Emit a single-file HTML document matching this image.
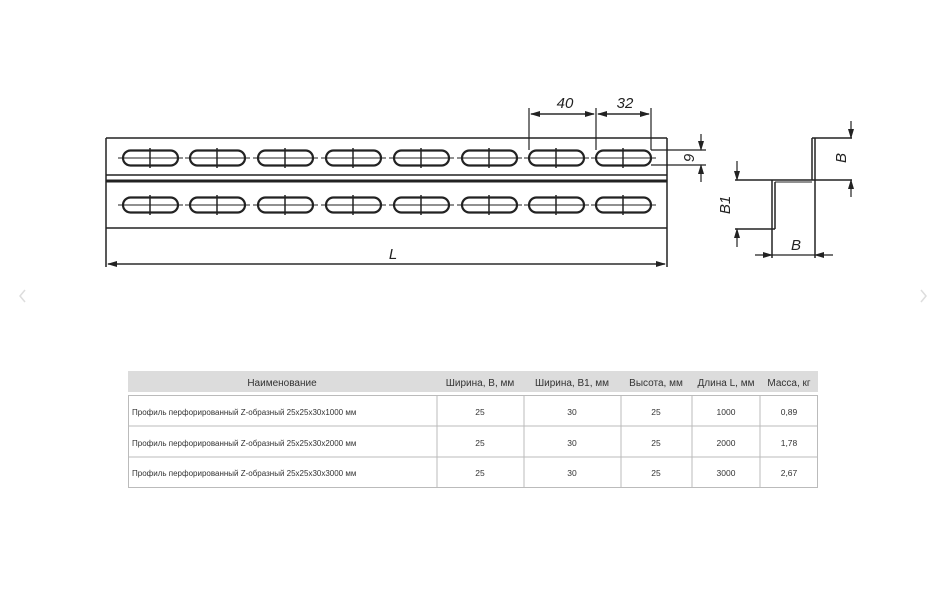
<!DOCTYPE html>
<html><head><meta charset="utf-8"><style>
html,body{margin:0;padding:0;background:#fff;}
body{width:948px;height:590px;position:relative;overflow:hidden;font-family:"Liberation Sans","DejaVu Sans",sans-serif;}
svg{position:absolute;left:0;top:0;}
</style></head><body>
<svg width="948" height="590" viewBox="0 0 948 590" xmlns="http://www.w3.org/2000/svg">
<defs>
<marker id="a" markerWidth="10" markerHeight="6" refX="9" refY="3" orient="auto" markerUnits="userSpaceOnUse"><path d="M0,0 L10,3 L0,6 z" fill="#222"/></marker>
<g id="slot">
<rect x="0" y="-7.5" width="55" height="15" rx="7.5" fill="none" stroke="#222" stroke-width="2.2"/>
<line x1="-5" y1="0" x2="60" y2="0" stroke="#222" stroke-width="1"/>
<line x1="27" y1="-10" x2="27" y2="10" stroke="#222" stroke-width="1.5"/>
</g>
</defs>
<g stroke="#222" fill="none" stroke-width="1.5">
<line x1="106" y1="138" x2="667" y2="138"/>
<line x1="106" y1="138" x2="106" y2="267"/>
<line x1="667" y1="138" x2="667" y2="267"/>
<line x1="106" y1="175" x2="667" y2="175"/>
<line x1="106" y1="181" x2="667" y2="181" stroke-width="3"/>
<line x1="106" y1="228" x2="667" y2="228"/>
<line x1="108" y1="264" x2="665" y2="264" stroke-width="1.2" marker-end="url(#a)"/>
<line x1="665" y1="264" x2="108" y2="264" stroke-width="1.2" marker-end="url(#a)"/>
<line x1="529" y1="108" x2="529" y2="150" stroke-width="1.2"/>
<line x1="596" y1="108" x2="596" y2="150" stroke-width="1.2"/>
<line x1="651" y1="108" x2="651" y2="150" stroke-width="1.2"/>
<line x1="531" y1="114" x2="594" y2="114" stroke-width="1.2" marker-end="url(#a)"/>
<line x1="594" y1="114" x2="531" y2="114" stroke-width="1.2" marker-end="url(#a)"/>
<line x1="598" y1="114" x2="649" y2="114" stroke-width="1.2" marker-end="url(#a)"/>
<line x1="649" y1="114" x2="598" y2="114" stroke-width="1.2" marker-end="url(#a)"/>
<line x1="651" y1="150" x2="706" y2="150" stroke-width="1.2"/>
<line x1="651" y1="165" x2="706" y2="165" stroke-width="1.2"/>
<line x1="701" y1="134" x2="701" y2="150" stroke-width="1.2" marker-end="url(#a)"/>
<line x1="701" y1="182" x2="701" y2="165" stroke-width="1.2" marker-end="url(#a)"/>
<line x1="812" y1="138" x2="812" y2="180"/>
<line x1="815" y1="138" x2="815" y2="258"/>
<line x1="812" y1="138" x2="852" y2="138"/>
<line x1="735" y1="180" x2="852" y2="180"/>
<line x1="775" y1="182" x2="812" y2="182" stroke-width="1"/>
<line x1="772" y1="180" x2="772" y2="258"/>
<line x1="775" y1="182" x2="775" y2="229"/>
<line x1="735" y1="229" x2="775" y2="229"/>
<line x1="851" y1="121" x2="851" y2="138" stroke-width="1.2" marker-end="url(#a)"/>
<line x1="851" y1="197" x2="851" y2="180" stroke-width="1.2" marker-end="url(#a)"/>
<line x1="737" y1="161" x2="737" y2="180" stroke-width="1.2" marker-end="url(#a)"/>
<line x1="737" y1="247" x2="737" y2="229" stroke-width="1.2" marker-end="url(#a)"/>
<line x1="755" y1="255" x2="772" y2="255" stroke-width="1.2" marker-end="url(#a)"/>
<line x1="833" y1="255" x2="815" y2="255" stroke-width="1.2" marker-end="url(#a)"/>
<line x1="772" y1="255" x2="815" y2="255" stroke-width="1.2"/>
</g>
<g>
<use href="#slot" x="123" y="158"/><use href="#slot" x="190" y="158"/><use href="#slot" x="258" y="158"/><use href="#slot" x="326" y="158"/>
<use href="#slot" x="394" y="158"/><use href="#slot" x="462" y="158"/><use href="#slot" x="529" y="158"/><use href="#slot" x="596" y="158"/>
<use href="#slot" x="123" y="205"/><use href="#slot" x="190" y="205"/><use href="#slot" x="258" y="205"/><use href="#slot" x="326" y="205"/>
<use href="#slot" x="394" y="205"/><use href="#slot" x="462" y="205"/><use href="#slot" x="529" y="205"/><use href="#slot" x="596" y="205"/>
</g>
<g font-family="Liberation Sans, sans-serif" font-style="italic" font-size="15" fill="#222">
<text x="565" y="108" text-anchor="middle">40</text>
<text x="625" y="108" text-anchor="middle">32</text>
<text x="393" y="259" text-anchor="middle">L</text>
<text x="796" y="250" text-anchor="middle">B</text>
<text transform="translate(694,158) rotate(-90)" text-anchor="middle">9</text>
<text transform="translate(846,158) rotate(-90)" text-anchor="middle">B</text>
<text transform="translate(730,205) rotate(-90)" text-anchor="middle">B1</text>
</g>
<g fill="none" stroke="#ddd" stroke-width="1.5">
<path d="M25,290 L20,296 L25,302"/>
<path d="M921,290 L926,296 L921,302"/>
</g>
<rect x="128" y="371" width="690" height="21" fill="#dcdcdc"/>
<g stroke="#bbb" stroke-width="1" fill="none">
<rect x="128.5" y="395.5" width="689" height="92"/>
<line x1="128" y1="426" x2="818" y2="426"/>
<line x1="128" y1="457" x2="818" y2="457"/>
<line x1="437" y1="395" x2="437" y2="488"/>
<line x1="524" y1="395" x2="524" y2="488"/>
<line x1="621" y1="395" x2="621" y2="488"/>
<line x1="692" y1="395" x2="692" y2="488"/>
<line x1="760" y1="395" x2="760" y2="488"/>
</g>
<g font-family="Liberation Sans, sans-serif" font-size="10" fill="#333" text-anchor="middle">
<text x="282" y="386">Наименование</text>
<text x="480" y="386">Ширина, В, мм</text>
<text x="572" y="386">Ширина, В1, мм</text>
<text x="656" y="386">Высота, мм</text>
<text x="726" y="386">Длина L, мм</text>
<text x="789" y="386">Масса, кг</text>
<g font-size="8.5">
<text x="480" y="415">25</text><text x="572" y="415">30</text><text x="656" y="415">25</text><text x="726" y="415">1000</text><text x="789" y="415">0,89</text>
<text x="480" y="446">25</text><text x="572" y="446">30</text><text x="656" y="446">25</text><text x="726" y="446">2000</text><text x="789" y="446">1,78</text>
<text x="480" y="476">25</text><text x="572" y="476">30</text><text x="656" y="476">25</text><text x="726" y="476">3000</text><text x="789" y="476">2,67</text>
</g>
</g>
<g font-family="Liberation Sans, sans-serif" font-size="8" fill="#333">
<text x="132" y="415">Профиль перфорированный Z-образный  25x25x30x1000 мм</text>
<text x="132" y="446">Профиль перфорированный Z-образный  25x25x30x2000 мм</text>
<text x="132" y="476">Профиль перфорированный Z-образный 25x25x30x3000 мм</text>
</g>
</svg>
</body></html>
